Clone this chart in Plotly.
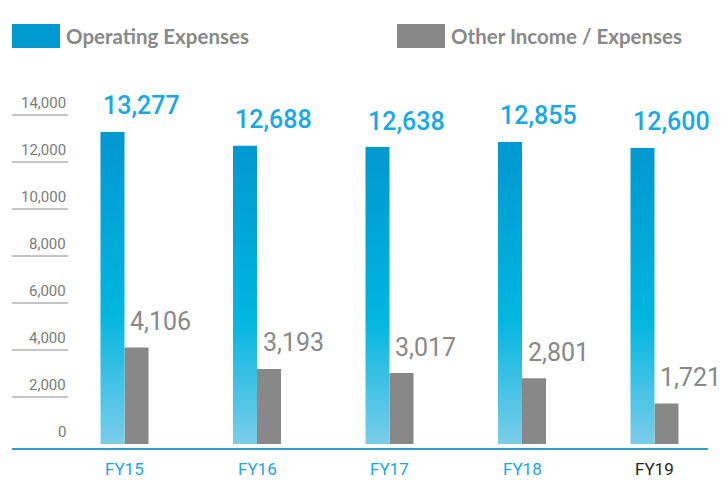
import plotly.graph_objects as go

years = ["FY15", "FY16", "FY17", "FY18", "FY19"]
operating = [13277, 12688, 12638, 12855, 12600]
other = [4106, 3193, 3017, 2801, 1721]
y_ticks = [0, 2000, 4000, 6000, 8000, 10000, 12000, 14000]
year_colors = ["#1aa5e3", "#1aa5e3", "#1aa5e3", "#1aa5e3", "#231f20"]

BLUE_TEXT = "#17a8e6"
GRAY = "#898889"
NUM_FONT = "Roboto, DejaVu Sans Condensed, sans-serif"

W, H = 727, 480
# pixel mapping: 0 at y=444 px, ~0.0235 px per unit; category spacing 132.5 px
PX_PER_UNIT = 0.0235
Y0_PX = 444
y_range = [(Y0_PX - H) / PX_PER_UNIT, Y0_PX / PX_PER_UNIT]
x_range = [-124.5 / 132.5, (W - 124.5) / 132.5]
bar_w = 24 / 132.5

fig = go.Figure()

# operating expenses: gradient bars drawn as filled polygons
for i, v in enumerate(operating):
    x_left = i - bar_w
    fig.add_trace(
        go.Scatter(
            x=[x_left, x_left, i, i, x_left],
            y=[0, v, v, 0, 0],
            mode="lines",
            fill="toself",
            line=dict(width=0, color="rgba(0,0,0,0)"),
            fillgradient=dict(
                type="vertical",
                colorscale=[
                    [0.0, "#7bcdea"],
                    [0.42, "#00b6df"],
                    [1.0, "#0098cf"],
                ],
            ),
            hoverinfo="skip",
            showlegend=False,
        )
    )

fig.add_trace(
    go.Bar(
        x=list(range(len(years))),
        y=other,
        width=bar_w,
        offset=0,
        marker=dict(color=GRAY, line=dict(width=0)),
        showlegend=False,
    )
)

annotations = []
shapes = []

# value labels
for i, (v1, v2) in enumerate(zip(operating, other)):
    annotations.append(dict(
        x=i - bar_w, y=v1, xref="x", yref="y", text=f"{v1:,}",
        showarrow=False, xanchor="left", yanchor="middle", yshift=26,
        font=dict(family=NUM_FONT, size=25, color=BLUE_TEXT, weight=500),
    ))
    annotations.append(dict(
        x=i + 0.03, y=v2, xref="x", yref="y", text=f"{v2:,}",
        showarrow=False, xanchor="left", yanchor="middle", yshift=26,
        font=dict(family=NUM_FONT, size=25, color=GRAY),
    ))

# category labels
for i, (yr, c) in enumerate(zip(years, year_colors)):
    annotations.append(dict(
        x=i, y=-(469 - Y0_PX) / PX_PER_UNIT, xref="x", yref="y", text=yr,
        showarrow=False, xanchor="center", yanchor="middle",
        font=dict(family=NUM_FONT, size=17, color=c),
    ))

# y tick labels with underlines
for t in y_ticks:
    annotations.append(dict(
        x=68 / W, y=t, xref="paper", yref="y", text=f"{t:,}",
        showarrow=False, xanchor="right", yanchor="bottom", yshift=1,
        font=dict(family=NUM_FONT, size=15, color="#7a7a7a"),
    ))
    if t > 0:
        shapes.append(dict(
            type="line", xref="paper", yref="y",
            x0=12 / W, x1=68 / W, y0=t, y1=t,
            line=dict(color="#8c8c8c", width=1),
        ))

# baseline
shapes.append(dict(
    type="line", xref="paper", yref="y",
    x0=12 / W, x1=708 / W, y0=-5 / PX_PER_UNIT, y1=-5 / PX_PER_UNIT,
    line=dict(color="#2a9fd0", width=2),
))

# legend
legend_items = [("Operating Expenses", "#0099d0", 12), ("Other Income / Expenses", GRAY, 397)]
for label, color, x_px in legend_items:
    shapes.append(dict(
        type="rect", xref="paper", yref="paper",
        x0=x_px / W, x1=(x_px + 48) / W, y0=1 - 48 / H, y1=1 - 24 / H,
        fillcolor=color, line=dict(width=0),
    ))
    annotations.append(dict(
        x=(x_px + 52) / W, y=1 - 36 / H, xref="paper", yref="paper", text=f"<b>{label}</b>",
        showarrow=False, xanchor="left", yanchor="middle",
        font=dict(family="Lato, Open Sans, sans-serif", size=20.5, color=GRAY),
    ))

fig.update_layout(
    width=W,
    height=H,
    margin=dict(l=0, r=0, t=0, b=0),
    paper_bgcolor="white",
    plot_bgcolor="white",
    xaxis=dict(range=x_range, visible=False, fixedrange=True),
    yaxis=dict(range=y_range, visible=False, fixedrange=True),
    annotations=annotations,
    shapes=shapes,
    showlegend=False,
)

fig.write_html(
    "out.html",
    config={"displayModeBar": False},
    post_script="document.body.style.margin='0';",
)
